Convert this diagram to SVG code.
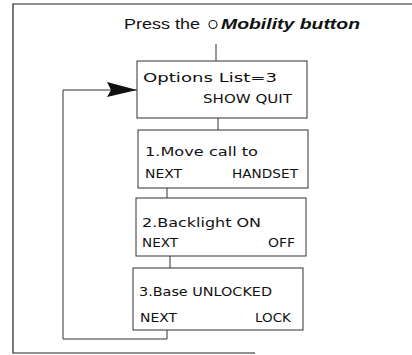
<svg xmlns="http://www.w3.org/2000/svg" width="412" height="355" viewBox="0 0 412 355">
<style>
.frame{fill:none;stroke:#222;stroke-width:1.2}
.box{fill:#fff;stroke:#333;stroke-width:1}
.ln{fill:none;stroke:#333;stroke-width:1}
.lcd{font-family:"DejaVu Sans","Liberation Sans",sans-serif;font-size:12.5px;fill:#111}
.hd{font-family:"Liberation Sans",Arial,sans-serif;font-size:15px;fill:#111}
</style>
<defs>
<marker id="ah" markerWidth="30" markerHeight="16" refX="30" refY="8" orient="auto" markerUnits="userSpaceOnUse">
<path d="M0,0 L30,8 L0,15 L4,8 Z" fill="#111"/>
</marker>
</defs>
<g id="frame">
<path class="frame" d="M412,4 L13,4 L13,353 L255,353"/>
</g>
<g id="title">
<text class="hd" x="124" y="29" textLength="76" lengthAdjust="spacingAndGlyphs">Press the</text>
<circle cx="213" cy="24.5" r="4" fill="none" stroke="#111" stroke-width="1.1"/>
<text class="hd" x="221" y="29" font-weight="bold" font-style="italic" textLength="139" lengthAdjust="spacingAndGlyphs">Mobility button</text>
</g>
<g id="connectors">
<line class="ln" x1="216" y1="44" x2="216" y2="61"/>
<line class="ln" x1="218" y1="118" x2="218" y2="130"/>
<line class="ln" x1="167" y1="188" x2="167" y2="198"/>
<line class="ln" x1="170" y1="256" x2="170" y2="268"/>
<path class="ln" d="M167,330 L167,339 L63,339 L63,90 L137,90" marker-end="url(#ah)"/>
</g>
<g id="node-options">
<rect class="box" x="137" y="61" width="170" height="57"/>
<text class="lcd" x="143" y="82" textLength="134" lengthAdjust="spacingAndGlyphs">Options List=3</text>
<text class="lcd" x="203" y="103" textLength="89" lengthAdjust="spacingAndGlyphs">SHOW QUIT</text>
</g>
<g id="node-move">
<rect class="box" x="138" y="130" width="170" height="58"/>
<text class="lcd" x="145" y="156" textLength="113" lengthAdjust="spacingAndGlyphs">1.Move call to</text>
<text class="lcd" x="145" y="178" textLength="37" lengthAdjust="spacingAndGlyphs">NEXT</text>
<text class="lcd" x="232" y="178" textLength="66" lengthAdjust="spacingAndGlyphs">HANDSET</text>
</g>
<g id="node-backlight">
<rect class="box" x="136" y="198" width="170" height="58"/>
<text class="lcd" x="142" y="227" textLength="119" lengthAdjust="spacingAndGlyphs">2.Backlight ON</text>
<text class="lcd" x="142" y="247" textLength="36" lengthAdjust="spacingAndGlyphs">NEXT</text>
<text class="lcd" x="268" y="247" textLength="27" lengthAdjust="spacingAndGlyphs">OFF</text>
</g>
<g id="node-base">
<rect class="box" x="133" y="268" width="170" height="62"/>
<text class="lcd" x="139" y="296" textLength="133" lengthAdjust="spacingAndGlyphs">3.Base UNLOCKED</text>
<text class="lcd" x="140" y="322" textLength="37" lengthAdjust="spacingAndGlyphs">NEXT</text>
<text class="lcd" x="255" y="322" textLength="36" lengthAdjust="spacingAndGlyphs">LOCK</text>
</g>
</svg>
